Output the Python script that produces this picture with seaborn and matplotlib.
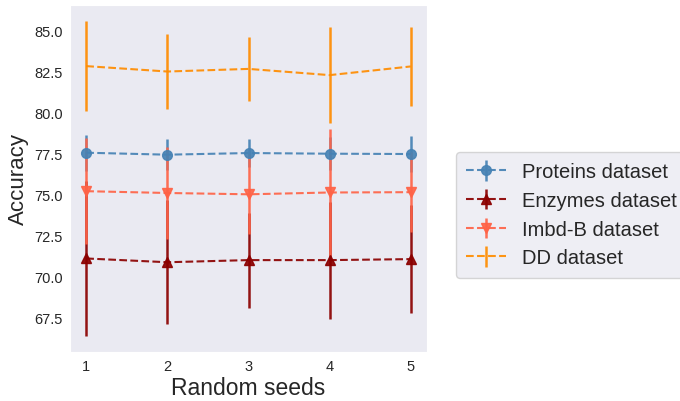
import matplotlib
matplotlib.use("Agg")
import matplotlib.pyplot as plt
import seaborn as sns
import numpy as np

seeds = [1, 2, 3, 4, 5]
labels = ["Proteins dataset", "Enzymes dataset", "Imbd-B dataset", "DD dataset"]

proteins_mean = [77.56, 77.44, 77.54, 77.50, 77.48]
proteins_err = [1.10, 0.96, 0.88, 1.00, 1.12]

enzymes_mean = [71.10, 70.87, 71.00, 71.00, 71.06]
enzymes_err = [4.75, 3.80, 2.90, 3.58, 3.28]

imdb_mean = [75.21, 75.10, 75.02, 75.13, 75.15]
imdb_err = [3.22, 2.80, 2.45, 3.86, 2.44]

dd_mean = [82.85, 82.52, 82.68, 82.30, 82.83]
dd_err = [2.77, 2.29, 1.94, 2.93, 2.39]

colors = ["steelblue", "darkred", "tomato", "darkorange"]
markers = ["o", "^", "v", ""]

sns.set_style("dark")
plt.rcParams["font.family"] = ["Liberation Sans", "DejaVu Sans"]

fig = plt.figure(figsize=(6.8, 4.02), dpi=100)
ax = fig.add_axes([70 / 680, 1 - 353 / 402, 357 / 680, 347 / 402])

series = [
    (proteins_mean, proteins_err),
    (enzymes_mean, enzymes_err),
    (imdb_mean, imdb_err),
    (dd_mean, dd_err),
]
for (m, e), lab, c, mk in zip(series, labels, colors, markers):
    ax.errorbar(seeds, m, yerr=e, label=lab, color=c, marker=mk,
                linestyle="--", linewidth=1.5, markersize=7,
                elinewidth=1.8, alpha=0.92)

ax.set_xticks(seeds)
ax.set_yticks([67.5, 70.0, 72.5, 75.0, 77.5, 80.0, 82.5, 85.0])
ax.set_yticklabels(["67.5", "70.0", "72.5", "75.0", "77.5", "80.0", "82.5", "85.0"])
ax.tick_params(axis="both", labelsize=10.5, length=0, pad=5)
ax.set_xlabel("Random seeds", fontsize=16.5, labelpad=2)
ax.set_ylabel("Accuracy", fontsize=16, labelpad=4)

handles, labs = ax.get_legend_handles_labels()
fig.legend(handles, labs, loc="center left",
           bbox_to_anchor=(456 / 680, 1 - 216 / 402),
           fontsize=14.5, frameon=True, facecolor="#EAEAF2",
           edgecolor="0.8", borderaxespad=0, labelspacing=0.48,
           handlelength=2.0, handletextpad=0.8, borderpad=0.5)

fig.savefig("out.png", dpi=100)
